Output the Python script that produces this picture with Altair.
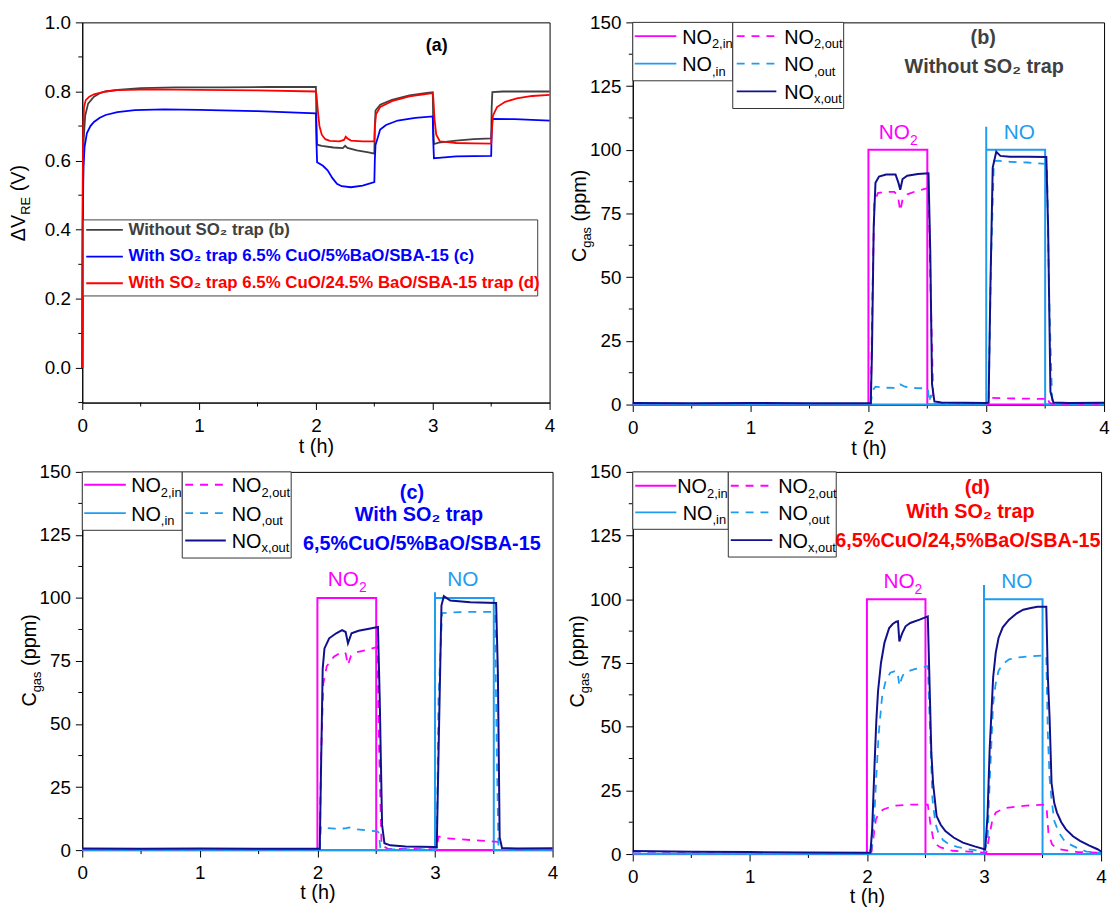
import altair as alt
import pandas as pd

FONT = "Liberation Sans"
MAG = "#FF00FF"
LBL = "#1E9CF0"
NAVY = "#10108C"
GRAY = "#404040"
BLUE = "#0000FF"
RED = "#FF0000"
BOXC = "#333333"

# ---------------- data: panel (a) dV_RE (V) vs t (h) ----------------
a_gray_t = [0, 0.004, 0.012, 0.025, 0.05, 0.1, 0.15, 0.2, 0.3, 0.5, 0.8, 1.2, 1.6, 2.0, 2.004,
            2.01, 2.05, 2.15, 2.23, 2.25, 2.27, 2.35, 2.45, 2.5, 2.504, 2.51, 2.55, 2.65, 2.8, 2.95,
            3.0, 3.004, 3.01, 3.05, 3.2, 3.35, 3.5, 3.504, 3.51, 3.6, 3.8, 4.0]
a_gray_v = [0.0, 0.45, 0.66, 0.73, 0.765, 0.785, 0.795, 0.80, 0.805, 0.81, 0.812, 0.812, 0.813, 0.813, 0.72,
            0.646, 0.643, 0.638, 0.636, 0.643, 0.637, 0.630, 0.624, 0.620, 0.70, 0.745, 0.762, 0.776, 0.789, 0.796,
            0.798, 0.70, 0.648, 0.652, 0.658, 0.662, 0.664, 0.75, 0.798, 0.80, 0.80, 0.80]
a_red_t = [0, 0.003, 0.008, 0.015, 0.03, 0.06, 0.1, 0.2, 0.3, 0.6, 1.0, 1.5, 2.0, 2.005, 2.015,
           2.03, 2.05, 2.08, 2.12, 2.2, 2.24, 2.255, 2.27, 2.3, 2.4, 2.5, 2.505, 2.515, 2.55, 2.65,
           2.8, 3.0, 3.005, 3.015, 3.03, 3.06, 3.2, 3.35, 3.5, 3.505, 3.515, 3.55, 3.62, 3.72, 3.85, 4.0]
a_red_v = [0.0, 0.5, 0.7, 0.755, 0.775, 0.785, 0.792, 0.80, 0.804, 0.806, 0.805, 0.803, 0.80, 0.79, 0.75,
           0.70, 0.675, 0.662, 0.657, 0.656, 0.66, 0.669, 0.664, 0.658, 0.656, 0.656, 0.70, 0.735, 0.755, 0.772,
           0.786, 0.795, 0.78, 0.72, 0.675, 0.656, 0.651, 0.650, 0.649, 0.68, 0.73, 0.755, 0.770, 0.780, 0.787, 0.79]
a_blue_t = [0, 0.004, 0.01, 0.02, 0.04, 0.07, 0.1, 0.15, 0.2, 0.3, 0.45, 0.7, 1.0, 1.5, 2.0,
            2.004, 2.01, 2.06, 2.1, 2.14, 2.18, 2.22, 2.3, 2.4, 2.5, 2.504, 2.51, 2.55, 2.6, 2.7,
            2.85, 3.0, 3.004, 3.01, 3.05, 3.2, 3.5, 3.504, 3.51, 3.7, 4.0]
a_blue_v = [0.0, 0.4, 0.58, 0.64, 0.68, 0.70, 0.712, 0.724, 0.732, 0.740, 0.746, 0.748, 0.747, 0.743, 0.737,
            0.66, 0.595, 0.585, 0.572, 0.55, 0.533, 0.526, 0.523, 0.528, 0.538, 0.60, 0.645, 0.69, 0.703, 0.716,
            0.724, 0.728, 0.66, 0.607, 0.608, 0.612, 0.614, 0.68, 0.721, 0.72, 0.716]

# ---------------- data: panels (b)-(d) C_gas (ppm) vs t (h) ----------------
no2in_t = [0, 2.0, 2.0, 2.5, 2.5, 4.0]
no2in_v = [0, 0, 100, 100, 0, 0]
noin_t = [0, 3.0, 3.0, 3.0, 3.5, 3.5, 4.0]
b_noin_v = [0, 0, 109, 100, 100, 0, 0]
c_noin_v = [0, 0, 102.3, 100, 100, 0, 0]
d_noin_v = [0, 0, 105.6, 100, 100, 0, 0]

b_no2out_t = [0, 2.02, 2.035, 2.05, 2.08, 2.15, 2.22, 2.25, 2.27, 2.29, 2.33, 2.42, 2.51, 2.53, 2.55,
              2.6, 3.0, 3.02, 3.035, 3.2, 3.4, 3.5, 3.515, 3.535, 3.56, 4.0]
b_no2out_v = [0.3, 0.3, 45, 79, 83, 83.5, 83.5, 82, 76, 80.5, 82.5, 84, 85, 40, 3,
              0.6, 0.4, 0.5, 2.6, 2.4, 2.3, 2.2, 3.0, 0.8, 0.3, 0.3]
b_noout_t = [0, 2.02, 2.035, 2.06, 2.15, 2.24, 2.27, 2.31, 2.4, 2.505, 2.515, 2.53, 2.545, 2.6, 3.0,
             3.02, 3.04, 3.065, 3.1, 3.2, 3.35, 3.5, 3.515, 3.535, 3.56, 4.0]
b_noout_v = [0.3, 0.3, 5.5, 7, 6.6, 6.5, 7.9, 7, 6.5, 6.3, 1, 3.8, 0.4, 0.3, 0.3,
             0.5, 55, 95.5, 95.7, 95.3, 95, 94.5, 94.5, 40, 0.5, 0.3]
b_nox_t = [0, 0.5, 1.0, 1.5, 2.02, 2.03, 2.045, 2.06, 2.09, 2.15, 2.23, 2.255, 2.27, 2.29, 2.33,
           2.42, 2.51, 2.525, 2.54, 2.56, 2.62, 3.0, 3.02, 3.035, 3.055, 3.085, 3.12, 3.2, 3.35, 3.51,
           3.525, 3.545, 3.57, 3.7, 4.0]
b_nox_v = [0.6, 0.5, 0.6, 0.5, 0.5, 20, 70, 87, 89.5, 90.3, 90.3, 87, 84.3, 88.5, 89.8,
           90.5, 90.8, 60, 8, 1.2, 0.8, 0.6, 0.8, 45, 93, 99.2, 97.6, 97.3, 97.3, 97.2,
           70, 5, 0.8, 0.6, 0.7]

c_no2out_t = [0, 2.02, 2.03, 2.05, 2.08, 2.14, 2.21, 2.24, 2.26, 2.285, 2.32, 2.44, 2.51, 2.525, 2.545,
              2.6, 3.0, 3.015, 3.03, 3.1, 3.3, 3.5, 3.52, 3.54, 3.56, 4.0]
c_no2out_v = [0.3, 0.3, 35, 66, 73, 76.7, 78.7, 78, 73.4, 77, 78.3, 79.6, 80.6, 40, 2,
              0.5, 0.4, 0.5, 5.4, 4.7, 4.0, 3.4, 3.4, 3.0, 0.3, 0.3]
c_noout_t = [0, 2.02, 2.03, 2.06, 2.15, 2.24, 2.27, 2.32, 2.44, 2.51, 2.52, 2.535, 2.55, 2.6, 3.0,
             3.015, 3.03, 3.06, 3.2, 3.4, 3.51, 3.525, 3.54, 4.0]
c_noout_v = [0.3, 0.3, 9.3, 8.8, 8.5, 8.6, 9, 8.3, 7.8, 7.4, 7.0, 1, 0.4, 0.3, 0.3,
             0.5, 60, 94, 94.4, 94.5, 94.5, 40, 0.4, 0.3]
c_nox_t = [0, 0.5, 1.0, 1.5, 2.02, 2.03, 2.045, 2.06, 2.1, 2.16, 2.21, 2.24, 2.26, 2.29, 2.35,
           2.44, 2.515, 2.53, 2.55, 2.57, 2.62, 2.75, 3.0, 3.015, 3.035, 3.055, 3.075, 3.13, 3.3, 3.52,
           3.535, 3.55, 3.57, 3.7, 4.0]
c_nox_v = [0.6, 0.5, 0.6, 0.5, 0.5, 30, 72, 80, 84, 86, 87.2, 86.5, 82, 86, 87,
           87.8, 88.5, 60, 10, 2.7, 1.9, 1.4, 1.2, 1.2, 50, 97, 100.7, 99, 98.3, 98,
           70, 5, 0.8, 0.6, 0.7]

d_no2out_t = [0, 2.0, 2.04, 2.05, 2.077, 2.1, 2.14, 2.2, 2.247, 2.35, 2.52, 2.545, 2.57, 2.6, 2.63,
              2.73, 3.0, 3.02, 3.04, 3.07, 3.1, 3.18, 3.36, 3.52, 3.535, 3.55, 3.58, 3.61, 3.65, 3.8, 4.0]
d_no2out_v = [0.3, 0.3, 1, 4.5, 13.6, 16, 17.5, 18.5, 19, 19.4, 19.4, 11, 5.2, 3.5, 2.6,
              1.3, 0.6, 0.6, 5.8, 13, 16.3, 18.1, 19, 19.4, 18, 8.4, 3.9, 2.5, 1.9, 0.8, 0.5]
d_noout_t = [0, 2.0, 2.04, 2.06, 2.077, 2.1, 2.13, 2.16, 2.2, 2.247, 2.262, 2.277, 2.3, 2.32, 2.4,
             2.52, 2.535, 2.56, 2.585, 2.61, 2.65, 2.7, 2.77, 2.85, 3.0, 3.03, 3.048, 3.078, 3.1, 3.124,
             3.16, 3.214, 3.3, 3.4, 3.532, 3.545, 3.56, 3.577, 3.6, 3.64, 3.69, 3.73, 3.8, 3.875, 4.0]
d_noout_v = [0.3, 0.3, 2, 12, 27.8, 47, 62, 68, 71.2, 71.9, 71.5, 66, 69.5, 71.2, 72.5,
             73.8, 53.7, 21.4, 12, 8.4, 5.5, 3.9, 2.8, 2, 1, 5, 27.8, 59, 67, 71.9,
             74.5, 76.4, 77.2, 77.6, 78, 47.3, 30, 21.4, 13, 8.4, 5, 3.9, 2.3, 1, 0.5]
d_nox_t = [0, 0.5, 1.0, 1.5, 2.0, 2.03, 2.045, 2.065, 2.08, 2.095, 2.12, 2.15, 2.19, 2.22, 2.25,
           2.265, 2.277, 2.3, 2.33, 2.37, 2.45, 2.52, 2.535, 2.55, 2.565, 2.595, 2.63, 2.67, 2.74, 2.82,
           2.92, 3.01, 3.03, 3.048, 3.078, 3.1, 3.124, 3.16, 3.214, 3.28, 3.335, 3.4, 3.456, 3.532, 3.545,
           3.56, 3.577, 3.6, 3.623, 3.66, 3.70, 3.76, 3.82, 3.9, 3.97, 4.0]
d_nox_v = [1.2, 0.9, 0.8, 0.6, 0.5, 0.6, 10, 35, 52, 64, 75, 83, 88.7, 90.3, 91.2,
           91.4, 83.5, 86.5, 89.4, 90.7, 92, 93.3, 66.7, 40, 27.8, 14.9, 11.5, 9, 6.5, 4.5,
           3, 1.8, 15, 40.8, 69.3, 79, 84.8, 89, 92, 94.5, 95.9, 96.6, 97.1, 97.1, 70,
           53.7, 27.8, 20, 16.3, 12.5, 9.7, 7, 5.2, 3.3, 1.9, 1.0]

# pulse label anchors (t, ppm): NO2 label, NO label
b_pulse_t = [2.088, 3.148]
b_pulse_v = [104.1, 104.1]
c_pulse_t = [2.088, 3.105]
c_pulse_v = [104.8, 104.8]
d_pulse_t = [2.141, 3.148]
d_pulse_v = [104.3, 104.3]

# axes ticks
X_TICKS = [0, 1, 2, 3, 4]
X_MINOR = [0.5, 1.5, 2.5, 3.5]
A_Y_TICKS = [0.0, 0.2, 0.4, 0.6, 0.8, 1.0]
A_Y_MINOR = [-0.1, 0.1, 0.3, 0.5, 0.7, 0.9]
C_Y_TICKS = [0, 25, 50, 75, 100, 125, 150]
C_Y_MINOR = [12.5, 37.5, 62.5, 87.5, 112.5, 137.5]

DUMMY = pd.DataFrame({"k": [0]})
DASH = [8, 7]


def line(t, v, color, xs, ys, dash=None, width=1.8):
    df = pd.DataFrame({"t": t, "v": v, "i": list(range(len(t)))})
    kw = dict(color=color, strokeWidth=width)
    if dash:
        kw["strokeDash"] = dash
    return alt.Chart(df).mark_line(**kw).encode(
        x=alt.X("t:Q", scale=xs),
        y=alt.Y("v:Q", scale=ys),
        order=alt.Order("i:Q"),
    )


def axes_layer(xs, ys, yvals, yfmt, tpad):
    df = pd.DataFrame({"t": [0.0], "v": [yvals[0]]})
    return alt.Chart(df).mark_point(opacity=0).encode(
        x=alt.X("t:Q", scale=xs, axis=alt.Axis(values=X_TICKS, format="d", title="t (h)",
                                               titlePadding=tpad, labelPadding=7)),
        y=alt.Y("v:Q", scale=ys, axis=alt.Axis(values=yvals, format=yfmt, title="", labelPadding=5)),
    )


def minor_ticks(xs, ys, H, yminor):
    lx = alt.Chart(pd.DataFrame({"t": X_MINOR})).mark_rule(color="black", strokeWidth=1).encode(
        x=alt.X("t:Q", scale=xs), y=alt.value(H), y2=alt.value(H + 4))
    ly = alt.Chart(pd.DataFrame({"v": yminor})).mark_rule(color="black", strokeWidth=1).encode(
        y=alt.Y("v:Q", scale=ys), x=alt.value(-4), x2=alt.value(0))
    return [lx, ly]


def txt(text, x, y, size, color="black", bold=False, align="left", baseline="alphabetic", angle=None):
    kw = dict(text=text, font=FONT, fontSize=size, color=color, align=align, baseline=baseline,
              fontWeight="bold" if bold else "normal")
    if angle is not None:
        kw["angle"] = angle
    return alt.Chart(DUMMY).mark_text(**kw).encode(x=alt.value(x), y=alt.value(y))


def rect(x0, y0, x1, y1, stroke=BOXC):
    return alt.Chart(DUMMY).mark_rect(fill="white", stroke=stroke, strokeWidth=1).encode(
        x=alt.value(x0), x2=alt.value(x1), y=alt.value(y0), y2=alt.value(y1))


def seg(x0, x1, y, color, dash=None, width=1.8):
    kw = dict(color=color, strokeWidth=width)
    if dash:
        kw["strokeDash"] = dash
    return alt.Chart(DUMMY).mark_rule(**kw).encode(x=alt.value(x0), x2=alt.value(x1), y=alt.value(y))


def sub_label(x, y, main, sub, color="black", size=20, subsize=13, main_w=30.0, drop=4.5):
    return [txt(main, x, y, size, color), txt(sub, x + main_w, y + drop, subsize, color)]


def cgas_title(xb, ystart):
    layers = [txt("C", xb, ystart, 20, angle=270)]
    y2 = ystart - 14.4
    layers.append(txt("gas", xb + 5, y2, 13, angle=270))
    y3 = y2 - 21.0 - 5.6
    layers.append(txt("(ppm)", xb, y3, 20, angle=270))
    return layers


def nox_legend(bw1, bh1, bw2, bh2, rows, s1, tx1, s2, tx2):
    L = [rect(0, 0, bw1, bh1), rect(bw1, 0, bw1 + bw2, bh2)]
    L.append(seg(s1[0], s1[1], rows[0], MAG))
    L += sub_label(tx1[0], rows[0] + 7.5, "NO", "2,in")
    L.append(seg(s1[0], s1[1], rows[1], LBL))
    L += sub_label(tx1[1], rows[1] + 7.5, "NO", ",in")
    L.append(seg(s2[0], s2[1], rows[0], MAG, dash=DASH))
    L += sub_label(tx2, rows[0] + 7.5, "NO", "2,out")
    L.append(seg(s2[0], s2[1], rows[1], LBL, dash=DASH))
    L += sub_label(tx2, rows[1] + 7.5, "NO", ",out")
    L.append(seg(s2[0], s2[1], rows[2], NAVY))
    L += sub_label(tx2, rows[2] + 7.5, "NO", "x,out")
    return L


def pulse_labels(pt, pv, xs, ys):
    out = []
    for (t, v, main, sub, col) in [(pt[0], pv[0], "NO", "2", MAG), (pt[1], pv[1], "NO", "", LBL)]:
        base = alt.Chart(pd.DataFrame({"t": [t], "v": [v]})).encode(
            x=alt.X("t:Q", scale=xs), y=alt.Y("v:Q", scale=ys))
        out.append(base.mark_text(text=main, font=FONT, fontSize=21, color=col, align="left",
                                  baseline="alphabetic"))
        if sub:
            out.append(base.mark_text(text=sub, font=FONT, fontSize=14, color=col, align="left",
                                      baseline="alphabetic", dx=31.5, dy=6))
    return out


def gas_panel(W, H, noin_v, no2out, noout, nox, pulse, legend_args, titles, ytitle, tpad):
    xs = alt.Scale(domain=[0, 4], nice=False, zero=False)
    ys = alt.Scale(domain=[0, 150], nice=False, zero=False)
    L = [axes_layer(xs, ys, C_Y_TICKS, "d", tpad)]
    L += minor_ticks(xs, ys, H, C_Y_MINOR)
    L.append(line(no2in_t, no2in_v, MAG, xs, ys, width=2))
    L.append(line(noin_t, noin_v, LBL, xs, ys, width=2))
    L.append(line(no2out[0], no2out[1], MAG, xs, ys, dash=DASH))
    L.append(line(noout[0], noout[1], LBL, xs, ys, dash=DASH))
    L.append(line(nox[0], nox[1], NAVY, xs, ys, width=2))
    L += pulse_labels(pulse[0], pulse[1], xs, ys)
    L += nox_legend(*legend_args)
    for (s, x, y, col) in titles:
        L.append(txt(s, x, y, 20, col, bold=True, align="center", baseline="middle"))
    L += cgas_title(*ytitle)
    return alt.layer(*L).properties(width=W, height=H)


# ---------------- panel (a) ----------------
WA, HA = 472, 384
xsa = alt.Scale(domain=[0, 4], nice=False, zero=False)
ysa = alt.Scale(domain=[-0.1, 1.0], nice=False, zero=False)
LA = [axes_layer(xsa, ysa, A_Y_TICKS, ".1f", 1.5)]
LA += minor_ticks(xsa, ysa, HA, A_Y_MINOR)
LA.append(line(a_gray_t, a_gray_v, GRAY, xsa, ysa))
LA.append(line(a_blue_t, a_blue_v, BLUE, xsa, ysa))
LA.append(line(a_red_t, a_red_v, RED, xsa, ysa))
LA.append(rect(1, 199.5, 460, 276.3, stroke=GRAY))
for (ry, col, label) in [(209.5, GRAY, "Without SO\u2082 trap (b)"),
                         (236.5, BLUE, "With SO\u2082 trap 6.5% CuO/5%BaO/SBA-15 (c)"),
                         (263.5, RED, "With SO\u2082 trap 6.5% CuO/24.5% BaO/SBA-15 trap (d)")]:
    LA.append(seg(4, 41, ry, col))
    LA.append(txt(label, 46.6, ry, 17, col, bold=True, baseline="middle"))
LA.append(txt("(a)", 358, 23.5, 18, "black", bold=True, align="center", baseline="middle"))
# y title  dV_RE (V)
LA.append(txt("\u0394V", -58, 221, 20, angle=270))
LA.append(txt("RE", -53, 221 - 26.7, 13, angle=270))
LA.append(txt("(V)", -58, 221 - 26.7 - 18.1 - 5.6, 20, angle=270))
panel_a = alt.layer(*LA).properties(width=WA, height=HA)

# ---------------- panels (b), (c), (d) ----------------
panel_b = gas_panel(
    476, 386, b_noin_v, (b_no2out_t, b_no2out_v), (b_noout_t, b_noout_v), (b_nox_t, b_nox_v),
    (b_pulse_t, b_pulse_v),
    (101, 59, 112, 87, [14, 41.7, 69.7], (2, 44), [50, 50], (105, 145), 153),
    [("(b)", 354, 16, GRAY), ("Without SO\u2082 trap", 355, 45, GRAY)],
    (-47, 242), 1.5)

panel_c = gas_panel(
    475, 382, c_noin_v, (c_no2out_t, c_no2out_v), (c_noout_t, c_noout_v), (c_nox_t, c_nox_v),
    (c_pulse_t, c_pulse_v),
    (101, 59, 110, 87, [13, 41.7, 69.3], (2, 44), [49.4, 49.4], (104, 145), 151),
    [("(c)", 333, 21.5, BLUE), ("With SO\u2082 trap", 340, 44, BLUE),
     ("6,5%CuO/5%BaO/SBA-15", 343, 72.7, BLUE)],
    (-47, 237), 0)

panel_d = gas_panel(
    473, 386, d_noin_v, (d_no2out_t, d_no2out_v), (d_noout_t, d_noout_v), (d_nox_t, d_nox_v),
    (d_pulse_t, d_pulse_v),
    (96.5, 58, 109, 86, [14, 41, 69], (2.5, 44), [45, 50.5], (99, 141), 147),
    [("(d)", 348, 16.5, RED), ("With SO\u2082 trap", 341, 40.3, RED),
     ("6,5%CuO/24,5%BaO/SBA-15", 338.5, 70, RED)],
    (-49, 238), 0)

chart = alt.concat(
    panel_a, panel_b, panel_c, panel_d, columns=2,
    spacing={"row": 68, "column": 81}, bounds="flush",
).properties(
    padding={"left": 0, "top": 0, "right": 0, "bottom": 0}
).configure_view(
    stroke="black", strokeWidth=1
).configure_axis(
    labelFont=FONT, labelFontSize=19, labelColor="black",
    titleFont=FONT, titleFontSize=20, titleFontWeight="normal", titleColor="black",
    tickColor="black", tickSize=7, tickWidth=1,
    domainColor="black", domainWidth=1, grid=False,
    labelFlush=False, labelOverlap=False,
)

chart.save("out.html", embed_options={"renderer": "svg", "actions": False})
